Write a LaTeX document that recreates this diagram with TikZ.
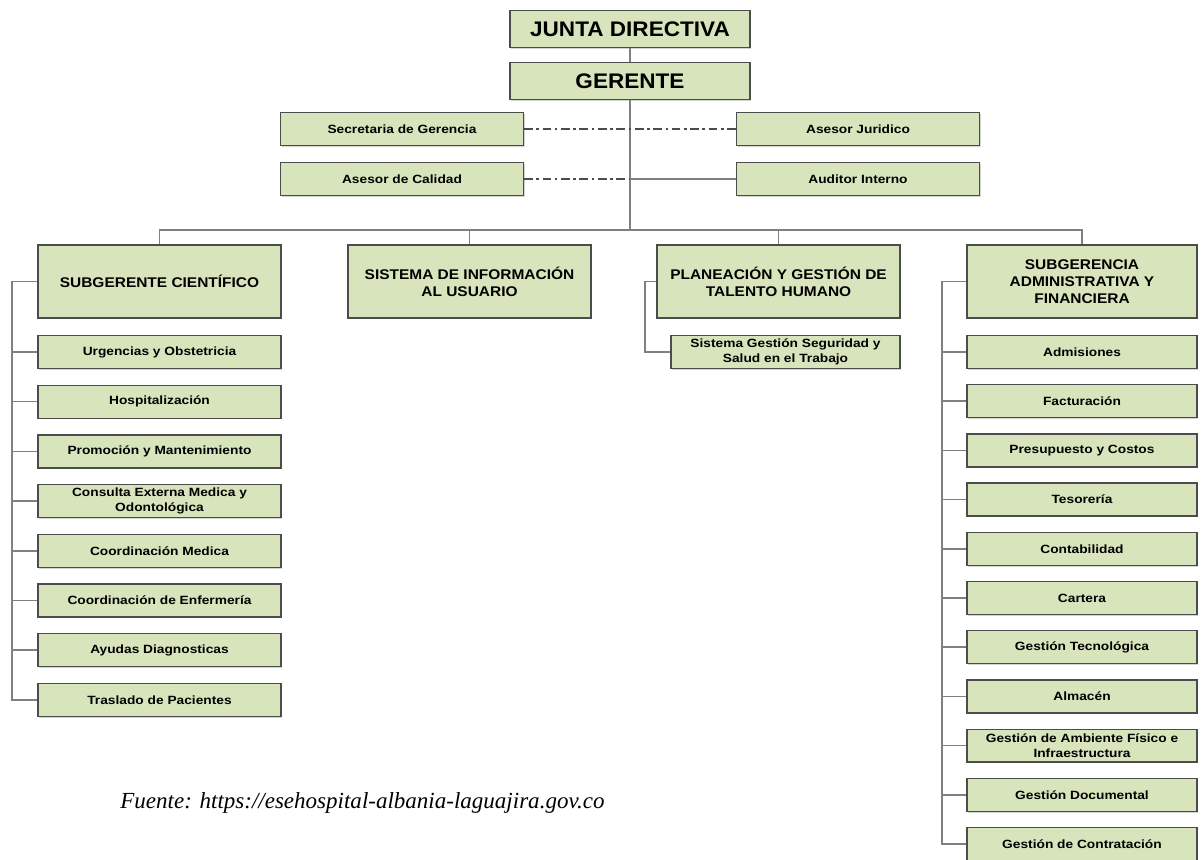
\documentclass[tikz,border=0pt]{standalone}
\usepackage{fontspec}
\setmainfont{Liberation Sans}
\newfontfamily\topfont[FakeStretch=1.07]{Liberation Sans}
\newfontfamily\headfont[FakeStretch=1.1]{Liberation Sans}
\newfontfamily\unitfont[FakeStretch=1.15]{Liberation Sans}
\newfontfamily\fuentefont{Liberation Serif}
\usetikzlibrary{shadows}
\definecolor{boxgreen}{HTML}{D8E4BC}

\begin{document}
\begin{tikzpicture}[x=0.02cm, y=-0.02cm,
    box/.style={draw=black!70, line width=0.7pt, fill=boxgreen, align=center, inner sep=1pt,
        drop shadow={shadow xshift=0.7pt, shadow yshift=-0.7pt, opacity=0.35}},
    topbox/.style={box, minimum width=4.8cm, minimum height=0.74cm, font=\topfont\fontsize{12}{14}\selectfont\bfseries},
    headbox/.style={box, minimum width=4.86cm, minimum height=1.46cm, font=\headfont\fontsize{8}{9.6}\selectfont\bfseries},
    unitbox/.style={box, minimum width=4.86cm, minimum height=0.66cm, font=\unitfont\fontsize{6.8}{8.5}\selectfont\bfseries},
    link/.style={draw=black!50, line width=0.9pt},
    dashdot/.style={draw=black!70, line width=0.9pt, dash pattern=on 5pt off 2pt on 1.5pt off 2pt}
]
    \useasboundingbox (0,0) rectangle (1202,859);

    % Direction
    \node[topbox] (junta) at (630,29) {JUNTA DIRECTIVA};
    \node[topbox] (gerente) at (630,81) {GERENTE};

    % Staff units
    \node[unitbox] (secre) at (402,129) {Secretaria de Gerencia};
    \node[unitbox] (juridico) at (858,129) {Asesor Juridico};
    \node[unitbox] (calidad) at (402,179) {Asesor de Calidad};
    \node[unitbox] (auditor) at (858,179) {Auditor Interno};

    % Second level
    \node[headbox] (cient) at (159.5,281.5) {SUBGERENTE CIENTÍFICO};
    \node[headbox] (info) at (469.5,281.5) {SISTEMA DE INFORMACIÓN\\AL USUARIO};
    \node[headbox] (talento) at (778.5,281.5) {PLANEACIÓN Y GESTIÓN DE\\TALENTO HUMANO};
    \node[headbox, minimum width=4.6cm] (admin) at (1082,281.5) {SUBGERENCIA\\ADMINISTRATIVA Y\\FINANCIERA};

    \node[unitbox, minimum width=4.58cm] (sgsst) at (785.5,352) {Sistema Gestión Seguridad y\\Salud en el Trabajo};

    % Subgerencia cientifica
    \node[unitbox] (c1) at (159.5,352) {Urgencias y Obstetricia};
    \node[unitbox] (c2) at (159.5,401.7) {Hospitalización};
    \node[unitbox] (c3) at (159.5,451.4) {Promoción y Mantenimiento};
    \node[unitbox] (c4) at (159.5,501.1) {Consulta Externa Medica y\\Odontológica};
    \node[unitbox] (c5) at (159.5,550.8) {Coordinación Medica};
    \node[unitbox] (c6) at (159.5,600.5) {Coordinación de Enfermería};
    \node[unitbox] (c7) at (159.5,650.2) {Ayudas Diagnosticas};
    \node[unitbox] (c8) at (159.5,699.9) {Traslado de Pacientes};

    % Subgerencia administrativa
    \node[unitbox, minimum width=4.6cm] (a1) at (1082,352) {Admisiones};
    \node[unitbox, minimum width=4.6cm] (a2) at (1082,401.2) {Facturación};
    \node[unitbox, minimum width=4.6cm] (a3) at (1082,450.4) {Presupuesto y Costos};
    \node[unitbox, minimum width=4.6cm] (a4) at (1082,499.6) {Tesorería};
    \node[unitbox, minimum width=4.6cm] (a5) at (1082,548.8) {Contabilidad};
    \node[unitbox, minimum width=4.6cm] (a6) at (1082,598) {Cartera};
    \node[unitbox, minimum width=4.6cm] (a7) at (1082,647.2) {Gestión Tecnológica};
    \node[unitbox, minimum width=4.6cm] (a8) at (1082,696.4) {Almacén};
    \node[unitbox, minimum width=4.6cm] (a9) at (1082,745.6) {Gestión de Ambiente Físico e\\Infraestructura};
    \node[unitbox, minimum width=4.6cm] (a10) at (1082,794.8) {Gestión Documental};
    \node[unitbox, minimum width=4.6cm] (a11) at (1082,844) {Gestión de Contratación};

    % Helper coordinates
    \coordinate (bus) at (630,230);
    \coordinate (mid) at (630,179);
    \coordinate (lspine) at (12,0);
    \coordinate (tspine) at (645,0);
    \coordinate (rspine) at (942,0);

    % Main lines
    \path[link] (junta) -- (gerente);
    \path[link] (gerente) -- (bus);
    \path[link] (cient.north) |- (bus) -| (admin.north);
    \path[link] (info.north) -- (info.north |- bus);
    \path[link] (talento.north) -- (talento.north |- bus);

    % Staff lines
    \path[dashdot] (secre.east) -- (juridico.west);
    \path[dashdot] (calidad.east) -- (mid);
    \path[link] (mid) -- (auditor.west);

    % Left spine
    \path[link] (cient.west) -| (lspine |- c8.west) -- (c8.west);
    \path[link] (c1.west) -- (c1.west -| lspine);
    \path[link] (c2.west) -- (c2.west -| lspine);
    \path[link] (c3.west) -- (c3.west -| lspine);
    \path[link] (c4.west) -- (c4.west -| lspine);
    \path[link] (c5.west) -- (c5.west -| lspine);
    \path[link] (c6.west) -- (c6.west -| lspine);
    \path[link] (c7.west) -- (c7.west -| lspine);

    % Talento humano
    \path[link] (talento.west) -| (tspine |- sgsst.west) -- (sgsst.west);

    % Right spine
    \path[link] (admin.west) -| (rspine |- a11.west) -- (a11.west);
    \path[link] (a1.west) -- (a1.west -| rspine);
    \path[link] (a2.west) -- (a2.west -| rspine);
    \path[link] (a3.west) -- (a3.west -| rspine);
    \path[link] (a4.west) -- (a4.west -| rspine);
    \path[link] (a5.west) -- (a5.west -| rspine);
    \path[link] (a6.west) -- (a6.west -| rspine);
    \path[link] (a7.west) -- (a7.west -| rspine);
    \path[link] (a8.west) -- (a8.west -| rspine);
    \path[link] (a9.west) -- (a9.west -| rspine);
    \path[link] (a10.west) -- (a10.west -| rspine);

    % Source
    \node[anchor=west, inner sep=0pt, font=\fuentefont\itshape\fontsize{13.1}{15}\selectfont] (fuente) at (120,803) {Fuente: https://esehospital-albania-laguajira.gov.co};
\end{tikzpicture}
\end{document}
